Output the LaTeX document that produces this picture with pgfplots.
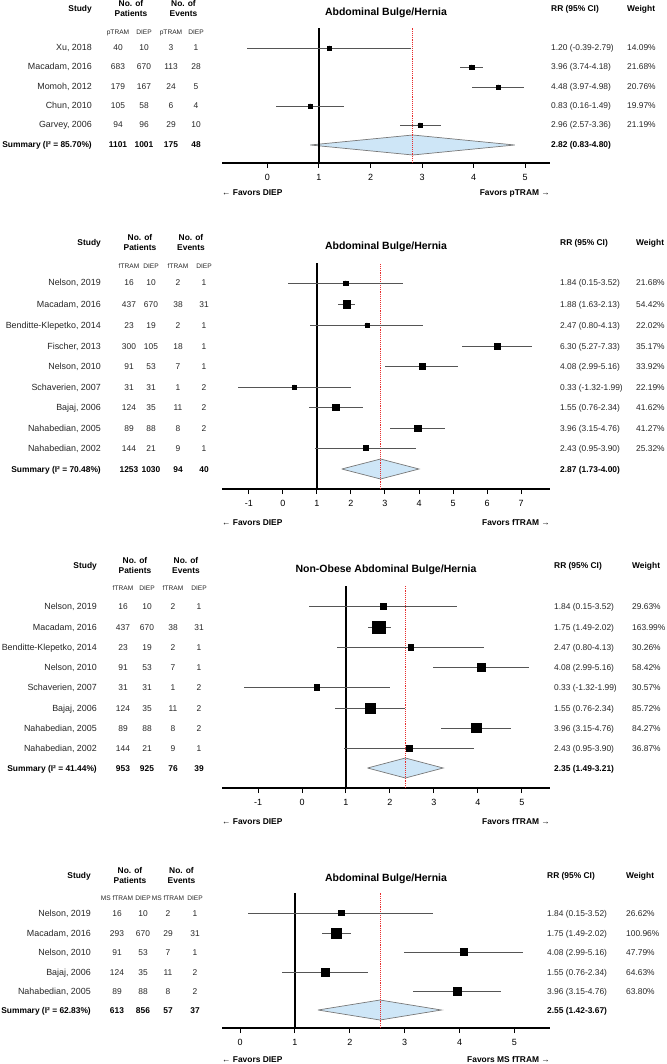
\documentclass[border=0pt]{standalone}
\usepackage{fontspec}
\setmainfont{Liberation Sans}
\usepackage{pgfplots}
\usepackage{pgfplotstable}
\pgfplotsset{compat=1.18}

\definecolor{dfill}{RGB}{206,230,247}
\definecolor{dline}{RGB}{120,120,120}
\definecolor{ciline}{RGB}{85,85,85}
\definecolor{rline}{RGB}{232,45,45}

% rows: y (pixel from top), rr, lower, upper, weight
\pgfplotstableread{
y rr lo hi w
48 1.20 -0.39 2.79 14.09
67 3.96 3.74 4.18 21.68
87 4.48 3.97 4.98 20.76
106 0.83 0.16 1.49 19.97
125 2.96 2.57 3.36 21.19
}\tabA
\pgfplotstableread{
y rr lo hi w
283 1.84 0.15 3.52 21.68
304 1.88 1.63 2.13 54.42
325 2.47 0.80 4.13 22.02
346 6.30 5.27 7.33 35.17
366 4.08 2.99 5.16 33.92
387 0.33 -1.32 1.99 22.19
407 1.55 0.76 2.34 41.62
428 3.96 3.15 4.76 41.27
448 2.43 0.95 3.90 25.32
}\tabB
\pgfplotstableread{
y rr lo hi w
606 1.84 0.15 3.52 29.63
627 1.75 1.49 2.02 163.99
647 2.47 0.80 4.13 30.26
667 4.08 2.99 5.16 58.42
687 0.33 -1.32 1.99 30.57
708 1.55 0.76 2.34 85.72
728 3.96 3.15 4.76 84.27
748 2.43 0.95 3.90 36.87
}\tabC
\pgfplotstableread{
y rr lo hi w
913 1.84 0.15 3.52 26.62
933 1.75 1.49 2.02 100.96
952 4.08 2.99 5.16 47.79
972 1.55 0.76 2.34 64.63
991 3.96 3.15 4.76 63.80
}\tabD

\pgfplotsset{
  forest/.style={
    scale only axis, width=328pt, clip=false,
    axis x line*=bottom, axis y line=none, ytick=\empty,
    tick align=outside, major tick length=5pt,
    x axis line style={line width=1.2pt},
    tick style={black, line width=1pt},
    ticklabel style={font=\fontsize{9}{10}\selectfont},
    xticklabel style={yshift=-3pt},
    /pgf/number format/assume math mode=true,
  },
}
% CI lines and weighted squares of one table
\newcommand\studies[1]{%
  \addplot[only marks, mark=none, error bars/.cd, x dir=both, x explicit,
    error mark=none, error bar style={ciline, line width=0.9pt}]
    table[x=rr, y expr=-\thisrow{y},
      x error plus expr=\thisrow{hi}-\thisrow{rr},
      x error minus expr=\thisrow{rr}-\thisrow{lo}] {#1};
  \addplot[scatter, only marks, mark=square*,
    scatter/use mapped color={draw=black, fill=black},
    mark options={line width=0.2pt},
    visualization depends on={sqrt(\thisrow{w})/2 \as \msize},
    scatter/@pre marker code/.append style={/tikz/mark size=\msize}]
    table[x=rr, y expr=-\thisrow{y}] {#1};
}

\tikzset{
  t/.style={font=\fontsize{8.4}{10}\selectfont, inner sep=0pt, text=black!85},
  tl/.style={t, font=\fontsize{8.9}{10}\selectfont},
  tb/.style={t, font=\fontsize{8.4}{10}\selectfont\bfseries, text=black},
  tbl/.style={tb},
  ts/.style={font=\fontsize{6.6}{8}\selectfont, inner sep=0pt, text=black!85},
}
% one table row: y, study, four counts, RR, weight
\newcommand\frow[9][t]{%
  \node[#1l, anchor=base east] at (\xl pt,-#2pt-3pt) {#3};
  \node[#1, anchor=base] at (\xa pt,-#2pt-3pt) {#4};
  \node[#1, anchor=base] at (\xb pt,-#2pt-3pt) {#5};
  \node[#1, anchor=base] at (\xc pt,-#2pt-3pt) {#6};
  \node[#1, anchor=base] at (\xd pt,-#2pt-3pt) {#7};
  \node[#1, anchor=base west] at (\xr pt,-#2pt-3pt) {#8};
  \node[#1, anchor=base west] at (\xw pt,-#2pt-3pt) {#9};}
% headers: y of "Study", group name, title, title y
\newcommand\fhead[4]{%
  \node[tb, anchor=base east] at (\xl pt,-#1pt-3pt) {Study};
  \node[tb, anchor=base] at ({(\xa+\xb)*0.5pt},-#1pt+2pt) {No. of};
  \node[tb, anchor=base] at ({(\xa+\xb)*0.5pt},-#1pt-8pt) {Patients};
  \node[tb, anchor=base] at ({(\xc+\xd)*0.5pt},-#1pt+2pt) {No. of};
  \node[tb, anchor=base] at ({(\xc+\xd)*0.5pt},-#1pt-8pt) {Events};
  \node[ts, anchor=base] at (\xa pt,-#1pt-25.5pt) {#2};
  \node[ts, anchor=base] at (\xb pt,-#1pt-25.5pt) {DIEP};
  \node[ts, anchor=base] at (\xc pt,-#1pt-25.5pt) {#2};
  \node[ts, anchor=base] at (\xd pt,-#1pt-25.5pt) {DIEP};
  \node[tb, anchor=base west] at (\xr pt,-#1pt-3pt) {RR (95\% CI)};
  \node[tb, anchor=base west] at (\xw pt,-#1pt-3pt) {Weight};
  \node[tb, font=\fontsize{10.5}{12}\selectfont\bfseries, anchor=base]
    at (386pt,-#4pt-3.8pt) {#3};}
\newcommand\favors[2]{%
  \node[tb, anchor=base west] at (222pt,-#1pt-3pt) {{\mdseries ←} Favors DIEP};
  \node[tb, anchor=base east] at (550pt,-#1pt-3pt) {Favors #2 {\mdseries →}};}

\begin{document}
\begin{tikzpicture}
\path[use as bounding box] (0,0) rectangle (666pt,-1064pt);

% ---------------- panel 1: pTRAM vs DIEP
\begin{axis}[forest, at={(222pt,-163pt)}, anchor=south west, height=135pt,
  xmin=-0.883, xmax=5.485, ymin=-163, ymax=-28, xtick={0,...,5}]
  \addplot[fill=dfill, draw=dline, line width=0.7pt]
    coordinates {(0.83,-145) (2.82,-135) (4.80,-145) (2.82,-155) (0.83,-145)};
  \addplot[black, line width=1.3pt] coordinates {(1,-163) (1,-28)};
  \addplot[rline, densely dotted, line width=0.9pt] coordinates {(2.82,-163) (2.82,-28)};
  \studies{\tabA}
\end{axis}
\def\xl{92}\def\xa{118}\def\xb{144}\def\xc{171}\def\xd{196}\def\xr{551}\def\xw{627}
\fhead{9}{pTRAM}{Abdominal Bulge/Hernia}{12}
\frow{48}{Xu, 2018}{40}{10}{3}{1}{1.20 (-0.39-2.79)}{14.09\%}
\frow{67}{Macadam, 2016}{683}{670}{113}{28}{3.96 (3.74-4.18)}{21.68\%}
\frow{87}{Momoh, 2012}{179}{167}{24}{5}{4.48 (3.97-4.98)}{20.76\%}
\frow{106}{Chun, 2010}{105}{58}{6}{4}{0.83 (0.16-1.49)}{19.97\%}
\frow{125}{Garvey, 2006}{94}{96}{29}{10}{2.96 (2.57-3.36)}{21.19\%}
\frow[tb]{145}{Summary (I² = 85.70\%)}{1101}{1001}{175}{48}{2.82 (0.83-4.80)}{}
\favors{193}{pTRAM}

% ---------------- panel 2: fTRAM vs DIEP
\begin{axis}[forest, at={(222pt,-489pt)}, anchor=south west, height=226pt,
  xmin=-1.79, xmax=7.85, ymin=-489, ymax=-263, xtick={-1,...,7}]
  \addplot[fill=dfill, draw=dline, line width=0.7pt]
    coordinates {(1.73,-469) (2.87,-459) (4.00,-469) (2.87,-479) (1.73,-469)};
  \addplot[black, line width=1.3pt] coordinates {(1,-489) (1,-263)};
  \addplot[rline, densely dotted, line width=0.9pt] coordinates {(2.87,-489) (2.87,-263)};
  \studies{\tabB}
\end{axis}
\def\xl{101}\def\xa{129}\def\xb{151}\def\xc{178}\def\xd{204}\def\xr{560}\def\xw{636}
\fhead{243}{fTRAM}{Abdominal Bulge/Hernia}{246}
\frow{283}{Nelson, 2019}{16}{10}{2}{1}{1.84 (0.15-3.52)}{21.68\%}
\frow{304}{Macadam, 2016}{437}{670}{38}{31}{1.88 (1.63-2.13)}{54.42\%}
\frow{325}{Benditte-Klepetko, 2014}{23}{19}{2}{1}{2.47 (0.80-4.13)}{22.02\%}
\frow{346}{Fischer, 2013}{300}{105}{18}{1}{6.30 (5.27-7.33)}{35.17\%}
\frow{366}{Nelson, 2010}{91}{53}{7}{1}{4.08 (2.99-5.16)}{33.92\%}
\frow{387}{Schaverien, 2007}{31}{31}{1}{2}{0.33 (-1.32-1.99)}{22.19\%}
\frow{407}{Bajaj, 2006}{124}{35}{11}{2}{1.55 (0.76-2.34)}{41.62\%}
\frow{428}{Nahabedian, 2005}{89}{88}{8}{2}{3.96 (3.15-4.76)}{41.27\%}
\frow{448}{Nahabedian, 2002}{144}{21}{9}{1}{2.43 (0.95-3.90)}{25.32\%}
\frow[tb]{469}{Summary (I² = 70.48\%)}{1253}{1030}{94}{40}{2.87 (1.73-4.00)}{}
\favors{522}{fTRAM}

% ---------------- panel 3: non-obese fTRAM vs DIEP
\begin{axis}[forest, at={(222pt,-788pt)}, anchor=south west, height=202pt,
  xmin=-1.82, xmax=5.64, ymin=-788, ymax=-586, xtick={-1,...,5}]
  \addplot[fill=dfill, draw=dline, line width=0.7pt]
    coordinates {(1.49,-768) (2.35,-758) (3.21,-768) (2.35,-778) (1.49,-768)};
  \addplot[black, line width=1.3pt] coordinates {(1,-788) (1,-586)};
  \addplot[rline, densely dotted, line width=0.9pt] coordinates {(2.35,-788) (2.35,-586)};
  \studies{\tabC}
\end{axis}
\def\xl{97}\def\xa{123}\def\xb{147}\def\xc{173}\def\xd{199}\def\xr{554}\def\xw{632}
\fhead{565}{fTRAM}{Non-Obese Abdominal Bulge/Hernia}{569}
\frow{606}{Nelson, 2019}{16}{10}{2}{1}{1.84 (0.15-3.52)}{29.63\%}
\frow{627}{Macadam, 2016}{437}{670}{38}{31}{1.75 (1.49-2.02)}{163.99\%}
\frow{647}{Benditte-Klepetko, 2014}{23}{19}{2}{1}{2.47 (0.80-4.13)}{30.26\%}
\frow{667}{Nelson, 2010}{91}{53}{7}{1}{4.08 (2.99-5.16)}{58.42\%}
\frow{687}{Schaverien, 2007}{31}{31}{1}{2}{0.33 (-1.32-1.99)}{30.57\%}
\frow{708}{Bajaj, 2006}{124}{35}{11}{2}{1.55 (0.76-2.34)}{85.72\%}
\frow{728}{Nahabedian, 2005}{89}{88}{8}{2}{3.96 (3.15-4.76)}{84.27\%}
\frow{748}{Nahabedian, 2002}{144}{21}{9}{1}{2.43 (0.95-3.90)}{36.87\%}
\frow[tb]{768}{Summary (I² = 41.44\%)}{953}{925}{76}{39}{2.35 (1.49-3.21)}{}
\favors{821}{fTRAM}

% ---------------- panel 4: MS fTRAM vs DIEP
\begin{axis}[forest, at={(222pt,-1028pt)}, anchor=south west, height=135pt,
  xmin=-0.33, xmax=5.65, ymin=-1028, ymax=-893, xtick={0,...,5}]
  \addplot[fill=dfill, draw=dline, line width=0.7pt]
    coordinates {(1.42,-1010) (2.55,-1000) (3.67,-1010) (2.55,-1020) (1.42,-1010)};
  \addplot[black, line width=1.3pt] coordinates {(1,-1028) (1,-893)};
  \addplot[rline, densely dotted, line width=0.9pt] coordinates {(2.55,-1028) (2.55,-893)};
  \studies{\tabD}
\end{axis}
\def\xl{91}\def\xa{117}\def\xb{143}\def\xc{168}\def\xd{195}\def\xr{547}\def\xw{626}
\fhead{875}{MS fTRAM}{Abdominal Bulge/Hernia}{878}
\frow{913}{Nelson, 2019}{16}{10}{2}{1}{1.84 (0.15-3.52)}{26.62\%}
\frow{933}{Macadam, 2016}{293}{670}{29}{31}{1.75 (1.49-2.02)}{100.96\%}
\frow{952}{Nelson, 2010}{91}{53}{7}{1}{4.08 (2.99-5.16)}{47.79\%}
\frow{972}{Bajaj, 2006}{124}{35}{11}{2}{1.55 (0.76-2.34)}{64.63\%}
\frow{991}{Nahabedian, 2005}{89}{88}{8}{2}{3.96 (3.15-4.76)}{63.80\%}
\frow[tb]{1010}{Summary (I² = 62.83\%)}{613}{856}{57}{37}{2.55 (1.42-3.67)}{}
\favors{1059}{MS fTRAM}
\end{tikzpicture}
\end{document}
